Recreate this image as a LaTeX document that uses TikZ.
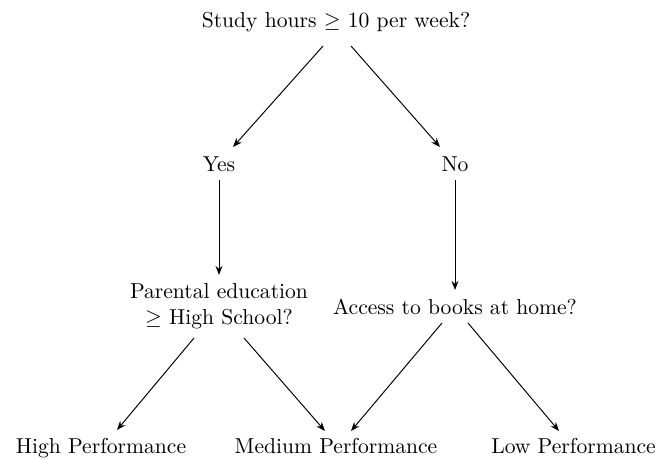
\documentclass[tikz,border=0pt]{standalone}
\usetikzlibrary{arrows.meta,calc}
\begin{document}
\begin{tikzpicture}[x=0.463pt,y=-0.463pt,
  lbl/.style={inner sep=0pt,outer sep=0pt,font=\normalsize},
  arr/.style={-{Stealth[length=4.2pt,width=3.2pt]},line width=0.45pt}]
\useasboundingbox (0,0) rectangle (656,459);
\node[lbl] (top) at (336,22.6) {Study hours $\geq$ 10 per week?};
\node[lbl] (yes) at (219,164.6) {Yes};
\node[lbl] (no) at (455,164.6) {No};
\node[lbl,align=center] (par) at (219,306.5) {Parental education\\$\geq$ High School?};
\node[lbl] (acc) at (455,306.5) {Access to books at home?};
\node[lbl,anchor=base] (high) at (101,453) {High Performance};
\node[lbl,anchor=base] (med) at (336,453) {Medium Performance};
\node[lbl,anchor=base] (low) at (573.5,453) {Low Performance};
\draw[arr] ($(top)+(-13,23.4)$) -- ($(yes)+(14,-17.6)$);
\draw[arr] ($(top)+(15,23.4)$) -- ($(no)+(-15,-17.6)$);
\draw[arr] ($(yes)+(0,15.4)$) -- ($(par)+(0,-31.5)$);
\draw[arr] ($(no)+(0,15.4)$) -- ($(acc)+(0,-16.5)$);
\draw[arr] ($(par)+(-25,31.5)$) -- ($(high.base)+(16,-23)$);
\draw[arr] ($(par)+(25,31.5)$) -- ($(med.base)+(-11,-22)$);
\draw[arr] ($(acc)+(-13,16.5)$) -- ($(med.base)+(15,-22)$);
\draw[arr] ($(acc)+(13,16.5)$) -- ($(low.base)+(-14.5,-22)$);
\end{tikzpicture}
\end{document}
